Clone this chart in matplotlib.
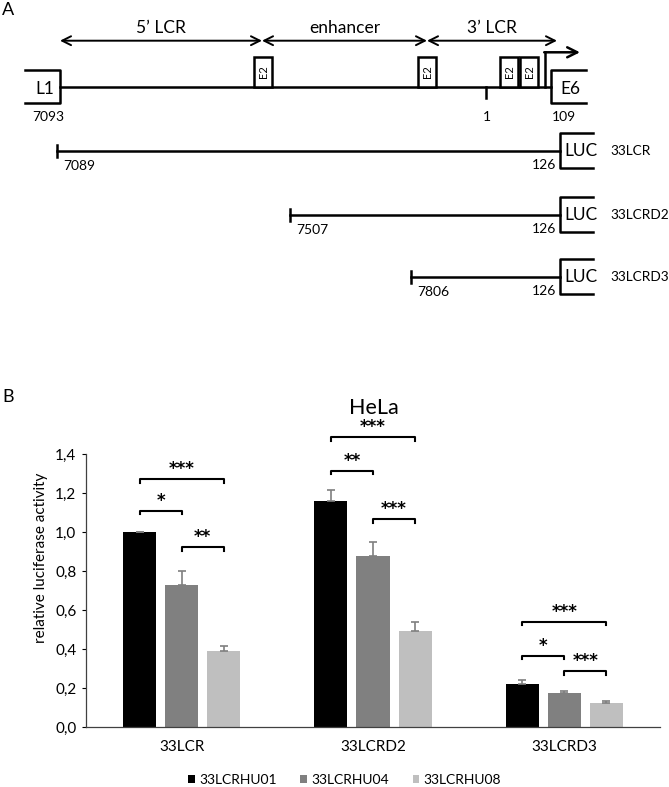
import matplotlib
matplotlib.use("Agg")
import matplotlib.pyplot as plt
import numpy as np
from matplotlib.patches import Rectangle, Patch

plt.rcParams['font.family'] = ['Lato', 'DejaVu Sans']

# ---- Panel A: schematic of the HPV33 LCR (diagram units, 0-669 across, rows top-down)
region_names = ["5’ LCR", "enhancer", "3’ LCR"]
region_edges = [60, 262, 427, 557]
e2_sites = [263, 427, 509, 529]
genome_labels = ["7093", "1", "109"]
genome_label_x = [48, 487, 564]
site_one_x = 486
l1_box = [25, 60]
e6_box = [586, 551]
tss_x = 545

constructs = ["33LCR", "33LCRD2", "33LCRD3"]
construct_start = ["7089", "7507", "7806"]
construct_start_x = [57, 290, 411]
construct_end = "126"
luc_x = 560

# ---- Panel B: luciferase assay in HeLa
cell_line = "HeLa"
groups = ["33LCR", "33LCRD2", "33LCRD3"]
series = ["33LCRHU01", "33LCRHU04", "33LCRHU08"]
colors = ["#000000", "#808080", "#bfbfbf"]
hu01 = [1.00, 1.16, 0.223]
hu01_err = [0.003, 0.056, 0.017]
hu04 = [0.731, 0.878, 0.176]
hu04_err = [0.070, 0.072, 0.012]
hu08 = [0.390, 0.493, 0.124]
hu08_err = [0.025, 0.048, 0.009]
yticks = [0.0, 0.2, 0.4, 0.6, 0.8, 1.0, 1.2, 1.4]
ytick_labels = ["0,0", "0,2", "0,4", "0,6", "0,8", "1,0", "1,2", "1,4"]

# significance brackets: group, bar a, bar b, bracket height, stars
sig_group = [0, 0, 0, 1, 1, 1, 2, 2, 2]
sig_a = [0, 0, 1, 0, 0, 1, 0, 0, 1]
sig_b = [2, 1, 2, 2, 1, 2, 2, 1, 2]
sig_y = [1.270, 1.110, 0.922, 1.486, 1.315, 1.067, 0.541, 0.367, 0.288]
sig_txt = ["***", "*", "**", "***", "**", "***", "***", "*", "***"]

W, H = 669, 787
fig = plt.figure(figsize=(W / 100, H / 100), dpi=100)

# ================= Panel A =================
axa = fig.add_axes([0, 1 - 360 / H, 1, 360 / H])
axa.set_xlim(0, W)
axa.set_ylim(360, 0)
axa.axis("off")
lw = 1.8

y_arrow = 40.7
for i, name in enumerate(region_names):
    axa.annotate("", xy=(region_edges[i], y_arrow), xytext=(region_edges[i + 1], y_arrow),
                 arrowprops=dict(arrowstyle="<->", lw=1.4, color="black",
                                 mutation_scale=16, shrinkA=0, shrinkB=0))
    axa.text((region_edges[i] + region_edges[i + 1]) / 2, 28, name,
             ha="center", va="center", fontsize=12.5)

y0 = 86.7
axa.plot([l1_box[1], e6_box[1]], [y0, y0], color="black", lw=lw)
for box, lab in [(l1_box, "L1"), (e6_box, "E6")]:
    axa.plot([box[0], box[1], box[1], box[0]], [70, 70, 103, 103], color="black", lw=lw)
    axa.text((box[0] + box[1]) / 2 + 2, 89, lab, ha="center", va="center", fontsize=12.5)

for x in e2_sites:
    axa.add_patch(Rectangle((x - 9, 57), 18, y0 - 57, facecolor="white",
                            edgecolor="black", lw=lw, zorder=3))
    axa.text(x + 0.5, (57 + y0) / 2, "E2", rotation=90, ha="center", va="center",
             fontsize=8, zorder=4)

axa.plot([site_one_x, site_one_x], [y0, 98], color="black", lw=lw)
axa.plot([tss_x, tss_x], [y0, 52.3], color="black", lw=lw)
axa.annotate("", xy=(580, 52.3), xytext=(tss_x - 0.8, 52.3),
             arrowprops=dict(arrowstyle="->", lw=lw, color="black",
                             mutation_scale=18, shrinkA=0, shrinkB=0))

for x, lab in zip(genome_label_x, genome_labels):
    axa.text(x, 117, lab, ha="center", va="center", fontsize=10)

rows_y = [151, 215, 277]
for y, name, start, sx in zip(rows_y, constructs, construct_start, construct_start_x):
    axa.plot([sx, luc_x], [y, y], color="black", lw=lw)
    axa.plot([sx, sx], [y - 6, y + 6], color="black", lw=lw)
    axa.plot([593, luc_x, luc_x, 593], [y - 17.5, y - 17.5, y + 17, y + 17],
             color="black", lw=lw)
    axa.text(581, y + 0.5, "LUC", ha="center", va="center", fontsize=12.5)
    axa.text(610, y, name, ha="left", va="center", fontsize=9.8)
    axa.text(sx + 22, y + 15, start, ha="center", va="center", fontsize=10)
    axa.text(544, y + 14, construct_end, ha="center", va="center", fontsize=10)

fig.text(8 / W, 1 - 10 / H, "A", ha="center", va="center", fontsize=13)

# ================= Panel B =================
fig.text(8 / W, 1 - 397 / H, "B", ha="center", va="center", fontsize=13)
ax = fig.add_axes([86 / W, 1 - 727.3 / H, 574 / W, 273.3 / H])
x = np.arange(len(groups))
offsets = [-0.22, 0.0, 0.22]
width = 0.1725
vals = [hu01, hu04, hu08]
errs = [hu01_err, hu04_err, hu08_err]
for k in range(3):
    ax.bar(x + offsets[k], vals[k], width, color=colors[k], label=series[k], zorder=2)
    ax.errorbar(x + offsets[k], vals[k], yerr=[np.zeros(3), errs[k]], fmt="none",
                ecolor="#7f7f7f", elinewidth=1.2, capsize=3, capthick=1.2, zorder=3)

ax.set_xlim(-0.5, 2.5)
ax.set_ylim(0, 1.4)
ax.set_yticks(yticks)
ax.set_yticklabels(ytick_labels)
ax.set_xticks(x)
ax.set_xticklabels(groups)
ax.tick_params(axis="x", length=0, pad=9, labelsize=11)
ax.tick_params(axis="y", length=3, width=0.8, pad=4, labelsize=11, direction="out")
for s in ["top", "right"]:
    ax.spines[s].set_visible(False)
for s in ["left", "bottom"]:
    ax.spines[s].set_linewidth(0.9)
    ax.spines[s].set_color("#404040")

leg = 0.018
for g, a, b, yb, t in zip(sig_group, sig_a, sig_b, sig_y, sig_txt):
    xa = g + offsets[a]
    xb = g + offsets[b]
    ax.plot([xa, xa, xb, xb], [yb - leg, yb, yb, yb - leg], color="black", lw=1.5,
            clip_on=False, zorder=4)
    ax.text((xa + xb) / 2, yb + 0.026, t, ha="center", va="baseline", fontsize=12,
            fontweight="bold", family="DejaVu Sans", clip_on=False)

fig.text(40.7 / W, 1 - 558 / H, "relative luciferase activity", rotation=90,
         ha="center", va="center", fontsize=11)
fig.text(374 / W, 1 - 408 / H, cell_line, ha="center", va="center", fontsize=15.5)

handles = [Patch(facecolor=c, edgecolor="none") for c in colors]
fig.legend(handles, series, loc="center", bbox_to_anchor=(344.5 / W, 1 - 780 / H),
           ncol=3, frameon=False, fontsize=10, handlelength=0.5, handleheight=0.5,
           handletextpad=0.3, columnspacing=1.7, borderpad=0)

fig.savefig("out.png", dpi=100)
